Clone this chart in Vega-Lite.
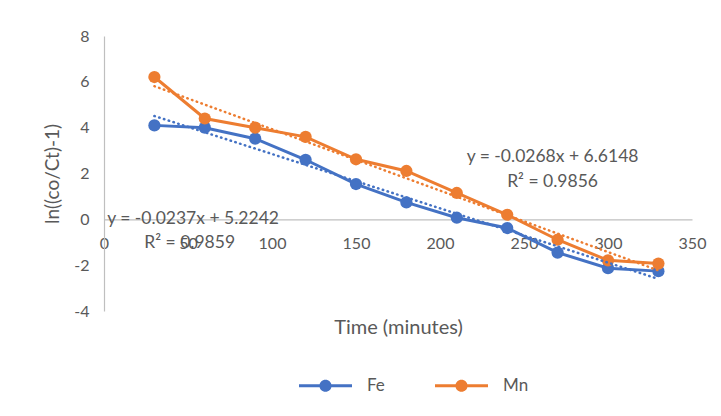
{
  "$schema": "https://vega.github.io/schema/vega-lite/v6.json",
  "width": 588,
  "height": 275,
  "autosize": {"type": "none"},
  "padding": {"left": 104, "top": 36, "right": 29, "bottom": 105},
  "background": "white",
  "config": {
    "view": {"stroke": null},
    "font": "Lato",
    "axis": {"labelFont": "Lato", "titleFont": "Lato", "labelColor": "#595959", "titleColor": "#595959", "labelFontSize": 16, "titleFontSize": 20, "titleFontWeight": "normal", "grid": false, "ticks": false, "domainColor": "#bfbfbf", "domainWidth": 1.2},
    "legend": {"labelFont": "Lato", "labelFontSize": 17, "labelColor": "#595959"}
  },
  "datasets": {
    "obs": [
      {"series": "Fe", "time": 30, "value": 4.1},
      {"series": "Fe", "time": 60, "value": 4.0},
      {"series": "Fe", "time": 90, "value": 3.52},
      {"series": "Fe", "time": 120, "value": 2.6},
      {"series": "Fe", "time": 150, "value": 1.54},
      {"series": "Fe", "time": 180, "value": 0.74},
      {"series": "Fe", "time": 210, "value": 0.07},
      {"series": "Fe", "time": 240, "value": -0.38},
      {"series": "Fe", "time": 270, "value": -1.45},
      {"series": "Fe", "time": 300, "value": -2.13},
      {"series": "Fe", "time": 330, "value": -2.26},
      {"series": "Mn", "time": 30, "value": 6.21},
      {"series": "Mn", "time": 60, "value": 4.4},
      {"series": "Mn", "time": 90, "value": 4.0},
      {"series": "Mn", "time": 120, "value": 3.6},
      {"series": "Mn", "time": 150, "value": 2.62},
      {"series": "Mn", "time": 180, "value": 2.11},
      {"series": "Mn", "time": 210, "value": 1.15},
      {"series": "Mn", "time": 240, "value": 0.2},
      {"series": "Mn", "time": 270, "value": -0.89},
      {"series": "Mn", "time": 300, "value": -1.79},
      {"series": "Mn", "time": 330, "value": -1.93}
    ],
    "trend": [
      {"series": "Fe", "time": 30, "value": 4.51},
      {"series": "Fe", "time": 330, "value": -2.6},
      {"series": "Mn", "time": 30, "value": 5.81},
      {"series": "Mn", "time": 330, "value": -2.23}
    ],
    "labels": [
      {"series": "Fe", "time": 53, "value": 0.0, "text": "y = -0.0237x + 5.2242"},
      {"series": "Fe", "time": 51, "value": -1.05, "text": "R² = 0.9859"},
      {"series": "Mn", "time": 267, "value": 2.7, "text": "y = -0.0268x + 6.6148"},
      {"series": "Mn", "time": 267, "value": 1.65, "text": "R² = 0.9856"}
    ]
  },
  "encoding": {
    "x": {"field": "time", "type": "quantitative", "scale": {"domain": [0, 350], "nice": false},
      "axis": {"values": [0, 50, 100, 150, 200, 250, 300, 350], "offset": -91.67, "labelPadding": 16, "title": "Time (minutes)", "titleY": 108, "titleBaseline": "middle", "labelFlush": false}},
    "y": {"field": "value", "type": "quantitative", "scale": {"domain": [-4, 8], "nice": false},
      "axis": {"values": [-4, -2, 0, 2, 4, 6, 8], "labelExpr": "replace(datum.label, '\u2212', '-')", "labelPadding": 15, "title": "ln((co/Ct)-1)", "titleX": -52, "titleY": 137.5, "titleBaseline": "middle", "titleAlign": "center", "titleFontSize": 19}}
  },
  "layer": [
    {
      "data": {"name": "obs"},
      "mark": {"type": "line", "strokeWidth": 3},
      "encoding": {
        "color": {"field": "series", "type": "nominal",
          "scale": {"domain": ["Fe", "Mn"], "range": ["#4472C4", "#ED7D31"]},
          "legend": {"title": null, "orient": "none", "direction": "horizontal", "legendX": 195, "legendY": 323,
            "symbolType": "M-1,-0.055H1V0.055H-1Z M0,-0.23A0.23,0.23 0 1,1 0,0.23A0.23,0.23 0 1,1 0,-0.23Z",
            "symbolSize": 2809, "symbolStrokeWidth": 0, "columnPadding": 50, "labelOffset": 15,
            "encode": {"symbols": {"update": {"fill": {"scale": "color", "field": "value"}, "stroke": {"value": "transparent"}}}}}
        }
      }
    },
    {
      "data": {"name": "obs"},
      "mark": {"type": "point", "filled": true, "size": 150, "opacity": 1},
      "encoding": {"color": {"field": "series", "type": "nominal", "legend": null}}
    },
    {
      "data": {"name": "trend"},
      "mark": {"type": "line", "strokeWidth": 2.5, "strokeDash": [0.5, 4.5], "strokeCap": "round"},
      "encoding": {"color": {"field": "series", "type": "nominal", "legend": null}, "detail": {"field": "series"}}
    },
    {
      "data": {"name": "labels"},
      "mark": {"type": "text", "fontSize": 17.5, "color": "#595959", "baseline": "middle", "align": "center"},
      "encoding": {"text": {"field": "text"}}
    }
  ]
}
